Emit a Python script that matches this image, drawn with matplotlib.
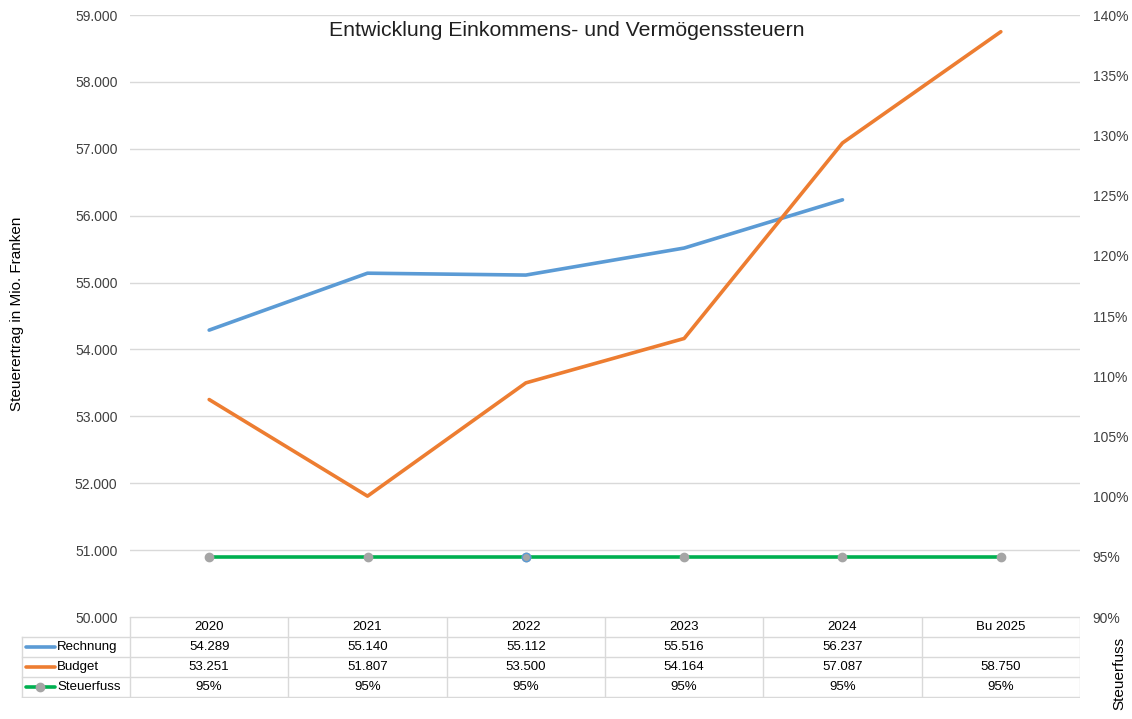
import matplotlib.pyplot as plt
from matplotlib.ticker import FuncFormatter

plt.rcParams['font.family'] = ['Liberation Sans', 'DejaVu Sans']

years = ['2020', '2021', '2022', '2023', '2024', 'Bu 2025']
rechnung = [54289, 55140, 55112, 55516, 56237]
budget = [53251, 51807, 53500, 54164, 57087, 58750]
steuerfuss = [95, 95, 95, 95, 95, 95]

blue = '#5B9BD5'
orange = '#ED7D31'
green = '#00B050'
grey = '#A5A5A5'
grid = '#D9D9D9'

W, H = 1132, 719
fig = plt.figure(figsize=(W / 100, H / 100), dpi=100)

def box(x0, y0, x1, y1):
    # pixel box (top-left origin) -> figure fraction
    return [x0 / W, 1 - y1 / H, (x1 - x0) / W, (y1 - y0) / H]

ax = fig.add_axes(box(130, 15, 1080, 617))
ax2 = ax.twinx()

n = len(years)
x = list(range(n))
ax.set_xlim(-0.5, n - 0.5)
ax.set_ylim(50000, 59000)
ax.set_yticks(range(50000, 59001, 1000))
ax.yaxis.set_major_formatter(FuncFormatter(lambda v, p: f'{v / 1000:.3f}'))
ax.grid(axis='y', color=grid, lw=1)
ax.set_axisbelow(True)
ax.set_xticks([])
for s in ax.spines.values():
    s.set_visible(False)
for s in ax2.spines.values():
    s.set_visible(False)
ax.tick_params(axis='y', length=0, labelsize=10, colors='#404040', pad=9)

ax2.set_ylim(90, 140)
ax2.set_yticks(range(90, 141, 5))
ax2.yaxis.set_major_formatter(FuncFormatter(lambda v, p: f'{v:.0f}%'))
ax2.tick_params(axis='y', length=0, labelsize=10, colors='#404040', pad=9)

ax.plot(x[:len(rechnung)], rechnung, color=blue, lw=2.6, solid_capstyle='round', zorder=3)
ax.plot(x, budget, color=orange, lw=2.6, solid_capstyle='round', zorder=3)
ax2.plot(x, steuerfuss, color=green, lw=2.6, marker='o', ms=6,
         mfc=grey, mec=grey, zorder=3)
ax2.plot([2], [steuerfuss[2]], ls='none', marker='o', ms=6, mfc=grey, mec=blue, mew=1, zorder=4)

fig.text(17 / W, 1 - 314 / H, 'Steuerertrag in Mio. Franken', rotation=90,
         ha='center', va='center', fontsize=11)

fig.text(567 / W, 1 - 30 / H, 'Entwicklung Einkommens- und Vermögenssteuern',
         ha='center', va='center', fontsize=15.3, color='#202020')

fig.text(1119 / W, 1 - 673 / H, 'Steuerfuss', rotation=90, ha='center', va='center',
         fontsize=11)

# data table below the plot
tab = fig.add_axes(box(20, 617, 1080, 698))
tab.set_xlim(20, 1080)
tab.set_ylim(698, 617)
tab.axis('off')

col_edges = [130 + i * 950 / n for i in range(n + 1)]
row_edges = [617, 637, 657, 677, 697]
lc = '#D9D9D9'
for xe in col_edges:
    tab.plot([xe, xe], [617, 697], color=lc, lw=1)
tab.plot([22, 22], [637, 697], color=lc, lw=1)
tab.plot([130, 1080], [617, 617], color=lc, lw=1)
for ye in row_edges[1:]:
    tab.plot([22, 1080], [ye, ye], color=lc, lw=1)

rows = [
    ('Rechnung', blue, False, [f'{v / 1000:.3f}' for v in rechnung] + [''] * (n - len(rechnung))),
    ('Budget', orange, False, [f'{v / 1000:.3f}' for v in budget]),
    ('Steuerfuss', green, True, [f'{v}%' for v in steuerfuss]),
]
centers = [(col_edges[i] + col_edges[i + 1]) / 2 for i in range(n)]
for c, yr in zip(centers, years):
    tab.text(c, 627, yr, ha='center', va='center', fontsize=9.5)
for r, (name, col, mark, vals) in enumerate(rows):
    yc = (row_edges[r + 1] + row_edges[r + 2]) / 2
    tab.plot([26, 55], [yc, yc], color=col, lw=2.6, solid_capstyle='round')
    if mark:
        tab.plot([40], [yc], marker='o', ms=6, mfc=grey, mec=grey)
    tab.text(57, yc, name, ha='left', va='center', fontsize=9.5)
    for c, v in zip(centers, vals):
        tab.text(c, yc, v, ha='center', va='center', fontsize=9.5)

fig.savefig('out.png', dpi=100)
